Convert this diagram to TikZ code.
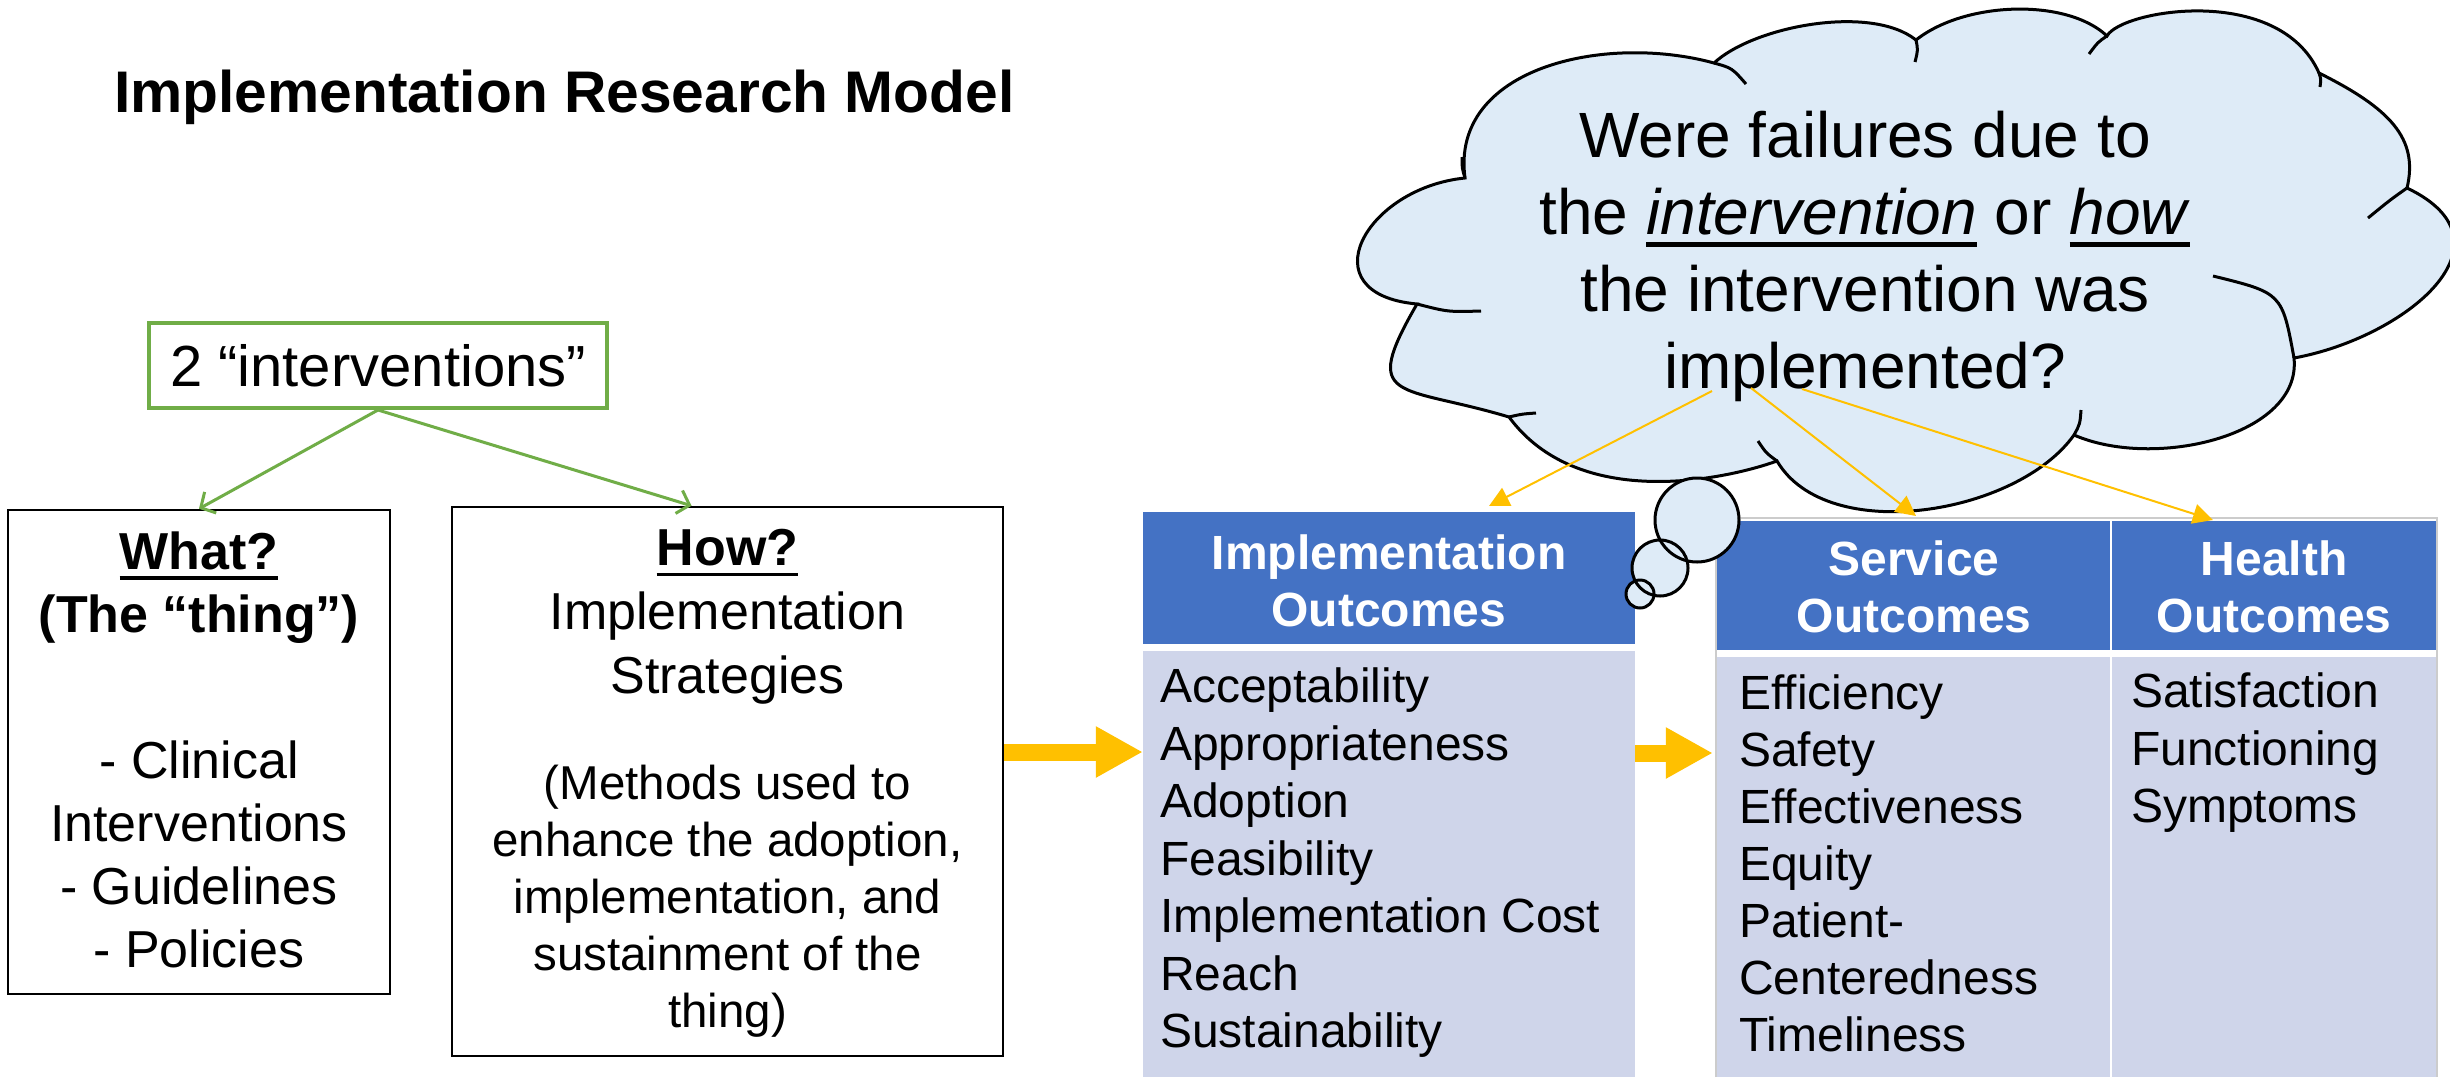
\documentclass[tikz,border=0pt]{standalone}
\usepackage{fontspec}
\setmainfont{Liberation Sans}
\usetikzlibrary{arrows.meta}
\definecolor{igreen}{HTML}{70AD47}
\definecolor{hdrblue}{HTML}{4472C4}
\definecolor{bodylav}{HTML}{CFD5EA}
\definecolor{cloudfill}{HTML}{DEEBF7}
\definecolor{arrowyel}{HTML}{FFC000}
\newsavebox\ulbox
\newcommand\ulx[1]{\sbox\ulbox{#1}\rlap{\rule[-0.2em]{\wd\ulbox}{0.07em}}\usebox\ulbox}
\tikzset{
  blackbox/.style={draw=black, line width=2.5pt, fill=white, inner sep=0pt},
  greenbox/.style={draw=igreen, line width=4pt, inner sep=0pt},
  hdr/.style={fill=hdrblue, inner sep=0pt},
  bodycell/.style={fill=bodylav, inner sep=0pt},
  txt/.style={inner sep=0pt, align=center},
  ltxt/.style={inner sep=0pt, align=left, anchor=west},
  greenarrow/.style={draw=igreen, line width=3pt, -{Straight Barb[length=11pt,width=24pt]}},
  bigarrow/.style={draw=arrowyel, line width=17pt, -{Triangle[length=47pt,width=48pt]}},
  thinarrow/.style={draw=arrowyel, line width=2pt, -{Triangle[length=20pt,width=20pt]}},
  cloudline/.style={draw=black, line width=3pt},
}
\begin{document}
\begin{tikzpicture}[x=1pt,y=-1pt]
\useasboundingbox (0,0) rectangle (2450,1077);
\fill[white] (0,0) rectangle (2450,1077);

% title
\node[inner sep=0pt, anchor=base west, font=\fontsize{58.7}{70}\selectfont\bfseries] (title) at (114,112) {Implementation Research Model};

% two interventions
\node[greenbox, minimum width=458pt, minimum height=85pt, font=\fontsize{58}{70}\selectfont] (two) at (378,365.5) {2 “interventions”};

% what box
\node[blackbox, minimum width=382pt, minimum height=484pt] (what) at (199,752) {};
\node[txt, font=\fontsize{52}{63}\selectfont\bfseries] (whattop) at (199,587.5) {\ulx{What?}\\(The “thing”)};
\node[txt, font=\fontsize{52}{63}\selectfont] (whatbot) at (199,854) {- Clinical\\Interventions\\- Guidelines\\- Policies};

% how box
\node[blackbox, minimum width=551pt, minimum height=549pt] (how) at (727.5,781.5) {};
\node[txt, font=\fontsize{52}{64}\selectfont] (howtop) at (727.5,617) {\textbf{\ulx{How?}}\\Implementation\\Strategies};
\node[txt, font=\fontsize{47.5}{57}\selectfont] (howbot) at (727.5,901.5) {(Methods used to\\enhance the adoption,\\implementation, and\\sustainment of the\\thing)};

% green arrows
\draw[greenarrow] (two.south) -- (what.north);
\draw[greenarrow] (two.south) -- ([xshift=-36pt]how.north);

% implementation outcomes table
\node[hdr, minimum width=492pt, minimum height=132pt] (imphdr) at (1389,578) {};
\node[bodycell, minimum width=492pt, minimum height=426pt] (impbody) at (1389,864) {};
\node[txt, text=white, font=\fontsize{48}{57}\selectfont\bfseries] (imphdrtxt) at (1389,580.5) {Implementation\\Outcomes};
\node[ltxt, font=\fontsize{48}{57.5}\selectfont] (impbodytxt) at (1160,863) {Acceptability\\Appropriateness\\Adoption\\Feasibility\\Implementation Cost\\Reach\\Sustainability};

% service / health table
\draw[black!20, line width=1.5pt] (1716,1077) -- (1716,518) -- (2437,518) -- (2437,1077);
\node[hdr, minimum width=393pt, minimum height=129pt] (svchdr) at (1913.5,585.5) {};
\node[hdr, minimum width=324pt, minimum height=129pt] (hlthdr) at (2274,585.5) {};
\node[bodycell, minimum width=393pt, minimum height=420pt] (svcbody) at (1913.5,867) {};
\node[bodycell, minimum width=324pt, minimum height=420pt] (hltbody) at (2274,867) {};
\node[txt, text=white, font=\fontsize{48}{57}\selectfont\bfseries] (svchdrtxt) at (1914,586.5) {Service\\Outcomes};
\node[txt, text=white, font=\fontsize{48}{57}\selectfont\bfseries] (hlthdrtxt) at (2274,586.5) {Health\\Outcomes};
\node[ltxt, font=\fontsize{48}{57}\selectfont] (svcbodytxt) at (1739,863.5) {Efficiency\\Safety\\Effectiveness\\Equity\\Patient-\\Centeredness\\Timeliness};
\node[ltxt, font=\fontsize{48}{57.5}\selectfont] (hltbodytxt) at (2131,753) {Satisfaction\\Functioning\\Symptoms};

% big arrows
\draw[bigarrow] (how.east |- 0,752) -- (impbody.west |- 0,752);
\draw[bigarrow] (impbody.east |- 0,753) -- ([xshift=-4pt]svcbody.west |- 0,753);

% cloud
\path[cloudline, fill=cloudfill] (1465,178)
 .. controls +(-100,10) and +(-110,-10) .. (1417,304)
 .. controls +(-58,100) and +(-110,-33) .. (1509,417)
 .. controls +(70,95) and +(-50,18) .. (1777,461)
 .. controls +(50,85) and +(-57,80) .. (2074,435)
 .. controls +(80,35) and +(8,78) .. (2294,358)
 .. controls +(110,-20) and +(115,55) .. (2407,188)
 .. controls +(12,-50) and +(70,35) .. (2319,73)
 .. controls +(-40,-90) and +(14,-26) .. (2107,36)
 .. controls +(-40,-38) and +(49,-39) .. (1916,40)
 .. controls +(-45,-36) and +(40,-37) .. (1714,63)
 .. controls +(-110,-30) and +(-15,-110) .. (1465,178) -- cycle;
\draw[cloudline] (1714,63) .. controls (1732,68) .. (1746,84);
\draw[cloudline] (1916,40) .. controls (1918,50) .. (1915,62);
\draw[cloudline] (2107,36) .. controls (2098,42) .. (2089,54);
\draw[cloudline] (2319,73) .. controls (2321,79) .. (2320,87);
\draw[cloudline] (2407,188) .. controls (2390,200) .. (2368,218);
\draw[cloudline] (2213,276) .. controls (2282,293) .. (2294,358);
\draw[cloudline] (2081,410) .. controls (2080,424) .. (2074,435);
\draw[cloudline] (1758,441) .. controls (1766,453) .. (1777,461);
\draw[cloudline] (1509,417) .. controls (1522,414) .. (1536,413);
\draw[cloudline] (1417,304) .. controls (1448,312) .. (1481,311);
\draw[cloudline] (1465,178) .. controls (1462,168) .. (1462,157);

% thought bubbles
\fill[cloudfill] (1697,520) circle[radius=42pt];
\fill[cloudfill] (1660,568) circle[radius=28pt];
\fill[cloudfill] (1640,594) circle[radius=14pt];
\draw[cloudline] (1697,520) circle[radius=42pt];
\draw[cloudline] (1660,568) circle[radius=28pt];
\draw[cloudline] (1640,594) circle[radius=14pt];

% cloud text
\node[txt, font=\fontsize{64}{77}\selectfont] (question) at (1865,256) {Were failures due to\\the \ulx{\textit{intervention}} or \ulx{\textit{how}}\\the intervention was\\implemented?};

% thin arrows
\coordinate (s1) at (1712,391);
\coordinate (s2) at (1751,388);
\coordinate (s3) at (1802,389);
\coordinate (t1) at (1489,506);
\coordinate (t2) at (1916,516);
\coordinate (t3) at (2213,520);
\draw[thinarrow] (s1) -- (t1);
\draw[thinarrow] (s2) -- (t2);
\draw[thinarrow] (s3) -- (t3);
\end{tikzpicture}
\end{document}
